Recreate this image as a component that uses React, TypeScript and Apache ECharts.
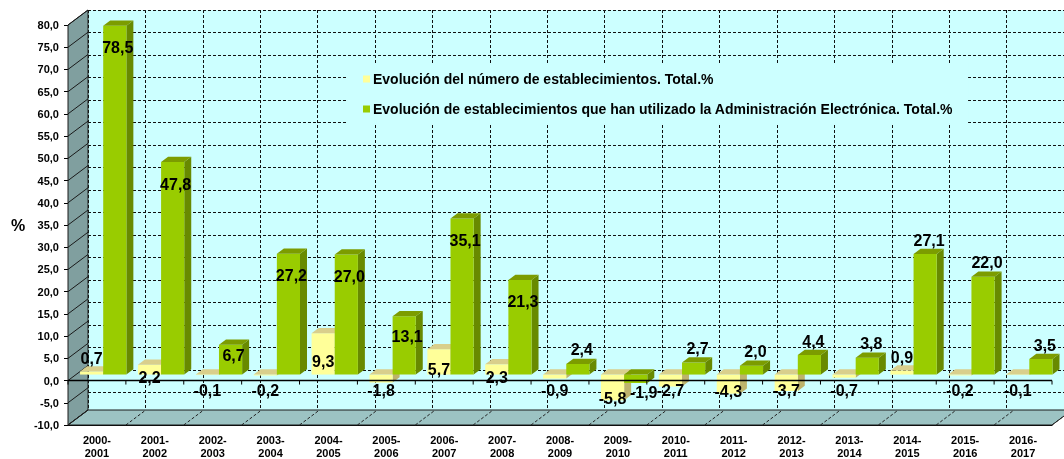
import React, { useEffect, useRef } from "react";
import * as echarts from "echarts";

// ---------- data ----------
const CATEGORIES = [
  "2000-2001", "2001-2002", "2002-2003", "2003-2004", "2004-2005", "2005-2006",
  "2006-2007", "2007-2008", "2008-2009", "2009-2010", "2010-2011", "2011-2012",
  "2012-2013", "2013-2014", "2014-2015", "2015-2016", "2016-2017",
];
const SERIES_NAMES = [
  "Evolución del número de establecimientos. Total.%",
  "Evolución de establecimientos que han utilizado la Administración Electrónica. Total.%",
];
const ESTABLECIMIENTOS = [0.7, 2.2, -0.1, -0.2, 9.3, -1.8, 5.7, 2.3, -0.9, -5.8, -2.7, -4.3, -3.7, -0.7, 0.9, -0.2, -0.1];
const ADMIN_ELECTRONICA = [78.5, 47.8, 6.7, 27.2, 27.0, 13.1, 35.1, 21.3, 2.4, -1.9, 2.7, 2.0, 4.4, 3.8, 27.1, 22.0, 3.5];
const Y_MIN = -10;
const Y_MAX = 80;
const Y_STEP = 5;
const Y_NAME = "%";
const GREEN_LABEL_ABOVE = ["2014-2015", "2015-2016"];

// ---------- layout / style ----------
const FONT = '"Liberation Sans", Arial, Helvetica, sans-serif';
const GRID_FRONT = { left: 68, top: 25, width: 984, height: 405 };
const GRID_BACK = { left: 88, top: 10, width: 984, height: 405 };
const DX = GRID_BACK.left - GRID_FRONT.left;
const DY = GRID_BACK.top - GRID_FRONT.top;
const BAR_FRONT = 0.4; // depth fraction of the bars' front face
const BAR_DEPTH = 0.35; // depth fraction of the bars' thickness
const BAR_OFFSET = 0.07;
const BAR_WIDTH = 0.4;

const PALETTES = [
  { front: "#ffff99", top: "#d9cf8c", side: "#bdb36c" },
  { front: "#99cc00", top: "#7c9c00", side: "#688a00" },
];

const fmt = (v: number) => v.toFixed(1).replace(".", ",");

function geometry(api: any, i: number, v: number, slot: number) {
  const bw = api.size([1, 0])[0];
  const base = api.coord([i, 0]);
  const end = api.coord([i, v]);
  const fdx = DX * BAR_FRONT;
  const fdy = DY * BAR_FRONT;
  const x = base[0] - bw / 2 + fdx + bw * (BAR_OFFSET + slot * BAR_WIDTH);
  const w = bw * BAR_WIDTH;
  const yBase = base[1] + fdy;
  const yEnd = end[1] + fdy;
  return { bw, x, w, yBase, yEnd, top: Math.min(yBase, yEnd), bot: Math.max(yBase, yEnd) };
}

function labelPos(slot: number, i: number, v: number, g: any) {
  const cx = g.x + g.w / 2;
  const h = g.bot - g.top;
  if (slot === 0) {
    if (v < 0) return [cx, Math.max(g.bot - 2, g.yBase + 16)];
    if (v < 1) return [cx, g.top - 13];
    return [cx, (g.top + g.bot) / 2 + 8];
  }
  if (v < 0) return [cx + 8, g.bot + 9];
  if (v < 5 || GREEN_LABEL_ABOVE.indexOf(CATEGORIES[i]) >= 0) return [cx + 4, g.top - 14];
  return [cx + 3, g.top + Math.min(22, 0.35 * h)];
}

function makeBarRenderer(slot: number) {
  const pal = PALETTES[slot];
  return (params: any, api: any) => {
    const i = api.value(0);
    const v = api.value(1);
    const g = geometry(api, i, v, slot);
    const ddx = DX * BAR_DEPTH;
    const ddy = DY * BAR_DEPTH;
    const t = g.top;
    const b = g.bot;
    const xr = g.x + g.w;
    const [lx, ly] = labelPos(slot, i, v, g);
    return {
      type: "group",
      children: [
        {
          type: "polygon",
          shape: { points: [[xr, t], [xr + ddx, t + ddy], [xr + ddx, b + ddy], [xr, b]] },
          style: { fill: pal.side },
        },
        {
          type: "rect",
          shape: { x: g.x, y: t, width: g.w, height: Math.max(b - t, 0.5) },
          style: { fill: pal.front },
        },
        {
          type: "polygon",
          shape: { points: [[g.x, t], [xr, t], [xr + ddx, t + ddy], [g.x + ddx, t + ddy]] },
          style: { fill: pal.top },
        },
        {
          type: "text",
          z2: 50,
          style: {
            text: fmt(v),
            x: lx,
            y: ly,
            align: "center",
            verticalAlign: "middle",
            fill: "#000",
            font: `bold 16px ${FONT}`,
          },
        },
      ],
    };
  };
}

function renderWalls(params: any, api: any) {
  const n = CATEGORIES.length;
  const bw = api.size([1, 0])[0];
  const c0 = api.coord([0, 0]);
  const xL = c0[0] - bw / 2;
  const xR = xL + bw * n;
  const yT = api.coord([0, Y_MAX])[1];
  const yB = api.coord([0, Y_MIN])[1];
  const children: any[] = [];
  children.push({
    type: "polygon",
    shape: { points: [[xL, yT], [xL + DX, yT + DY], [xL + DX, yB + DY], [xL, yB]] },
    style: { fill: "#809f9f", stroke: "#1a1a1a", lineWidth: 1 },
  });
  children.push({
    type: "polygon",
    shape: { points: [[xL, yB], [xR, yB], [xR + DX, yB + DY], [xL + DX, yB + DY]] },
    style: { fill: "#9cc3c3", stroke: "#1a1a1a", lineWidth: 1 },
  });
  for (let v = Y_MIN; v <= Y_MAX; v += Y_STEP) {
    const y = api.coord([0, v])[1];
    children.push({
      type: "line",
      shape: { x1: xL, y1: y, x2: xL + DX, y2: y + DY },
      style: { stroke: "#1a1a1a", lineWidth: 1 },
    });
  }
  for (let k = 0; k <= n; k++) {
    const x = xL + k * bw;
    children.push({
      type: "line",
      shape: { x1: x, y1: yB, x2: x + DX, y2: yB + DY },
      style: { stroke: "#222", lineWidth: 1, lineDash: [3, 2] },
    });
  }
  return { type: "group", children };
}

function renderZeroLine(params: any, api: any) {
  const n = CATEGORIES.length;
  const bw = api.size([1, 0])[0];
  const c0 = api.coord([0, 0]);
  const xL = c0[0] - bw / 2;
  const xR = xL + bw * n;
  const y0 = c0[1];
  const children: any[] = [
    { type: "line", shape: { x1: xL, y1: y0, x2: xR, y2: y0 }, style: { stroke: "#000", lineWidth: 1.5 } },
  ];
  for (let k = 0; k <= n; k++) {
    const x = xL + k * bw;
    children.push({
      type: "line",
      shape: { x1: x, y1: y0, x2: x, y2: y0 + 4 },
      style: { stroke: "#000", lineWidth: 1 },
    });
  }
  return { type: "group", children };
}

export default function App() {
  const ref = useRef<HTMLDivElement>(null);
  useEffect(() => {
    if (!ref.current) return;
    const chart = echarts.init(ref.current, undefined, { renderer: "svg" });
    const dashed = { type: [3, 2], color: "#111", width: 1 };
    const valueAxisBase = { type: "value", min: Y_MIN, max: Y_MAX, interval: Y_STEP };
    chart.setOption({
      animation: false,
      textStyle: { fontFamily: FONT },
      legend: {
        data: SERIES_NAMES,
        orient: "vertical",
        left: 348,
        top: 63,
        padding: [9, 15, 7, 15],
        backgroundColor: "#ccffff",
        icon: "rect",
        itemWidth: 7,
        itemHeight: 7,
        itemGap: 16,
        selectedMode: false,
        textStyle: { fontFamily: FONT, fontWeight: "bold", fontSize: 14, color: "#000", padding: [0, 0, 0, -2] },
      },
      grid: [
        { ...GRID_BACK, show: true, backgroundColor: "#ccffff", borderWidth: 0 },
        { ...GRID_FRONT },
      ],
      xAxis: [
        {
          gridIndex: 0,
          type: "category",
          data: CATEGORIES,
          boundaryGap: true,
          axisLine: { show: false },
          axisTick: { show: false },
          axisLabel: { show: false },
          splitLine: { show: true, interval: 0, lineStyle: dashed },
        },
        {
          gridIndex: 1,
          type: "category",
          data: CATEGORIES,
          boundaryGap: true,
          axisLine: { show: true, onZero: false, lineStyle: { color: "#000" } },
          axisTick: { show: false },
          axisLabel: {
            interval: 0,
            margin: 8,
            color: "#000",
            fontFamily: FONT,
            fontWeight: "bold",
            fontSize: 11,
            lineHeight: 13,
            formatter: (s: string) => s.replace("-", "-\n"),
          },
          splitLine: { show: false },
        },
      ],
      yAxis: [
        {
          ...valueAxisBase,
          gridIndex: 0,
          axisLine: { show: false },
          axisTick: { show: false },
          axisLabel: { show: false },
          splitLine: { show: true, lineStyle: dashed },
        },
        {
          ...valueAxisBase,
          gridIndex: 1,
          axisLine: { show: true, onZero: false, lineStyle: { color: "#000" } },
          axisTick: { show: true, length: 4, lineStyle: { color: "#000" } },
          axisLabel: {
            margin: 9,
            color: "#000",
            fontFamily: FONT,
            fontWeight: "bold",
            fontSize: 11,
            formatter: (v: number) => fmt(v),
          },
          splitLine: { show: false },
          name: Y_NAME,
          nameLocation: "middle",
          nameRotate: 0,
          nameGap: 50,
          nameTextStyle: {
            fontFamily: FONT,
            fontWeight: "bold",
            fontSize: 16,
            color: "#000",
            align: "center",
            verticalAlign: "middle",
          },
        },
      ],
      series: [
        {
          type: "custom",
          name: "walls",
          xAxisIndex: 1,
          yAxisIndex: 1,
          z: 1,
          silent: true,
          clip: false,
          renderItem: renderWalls,
          data: [[0, 0]],
        },
        {
          type: "custom",
          name: SERIES_NAMES[0],
          xAxisIndex: 1,
          yAxisIndex: 1,
          z: 3,
          clip: false,
          itemStyle: { color: PALETTES[0].front },
          renderItem: makeBarRenderer(0),
          data: ESTABLECIMIENTOS.map((v, i) => [i, v]),
        },
        {
          type: "custom",
          name: SERIES_NAMES[1],
          xAxisIndex: 1,
          yAxisIndex: 1,
          z: 3,
          clip: false,
          itemStyle: { color: PALETTES[1].front },
          renderItem: makeBarRenderer(1),
          data: ADMIN_ELECTRONICA.map((v, i) => [i, v]),
        },
        {
          type: "custom",
          name: "zero",
          xAxisIndex: 1,
          yAxisIndex: 1,
          z: 4,
          silent: true,
          clip: false,
          renderItem: renderZeroLine,
          data: [[0, 0]],
        },
      ],
    });
    return () => chart.dispose();
  }, []);
  return (
    <div
      ref={ref}
      style={{ position: "fixed", left: 0, top: 0, width: 1064, height: 459 }}
    />
  );
}
